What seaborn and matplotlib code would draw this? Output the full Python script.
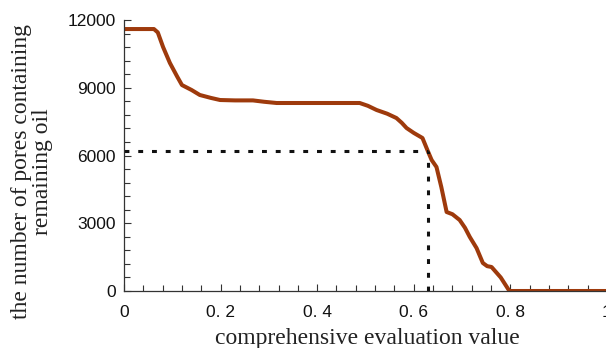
import matplotlib
matplotlib.use("Agg")
import matplotlib.pyplot as plt
from matplotlib.ticker import MultipleLocator, FuncFormatter
import seaborn as sns
import pandas as pd

eval_value = [0.0, 0.03, 0.062, 0.07, 0.081, 0.095, 0.11, 0.12, 0.14, 0.157, 0.18, 0.199,
              0.23, 0.267, 0.29, 0.316, 0.40, 0.488, 0.505, 0.523, 0.545, 0.564, 0.575,
              0.585, 0.60, 0.618, 0.629, 0.637, 0.647, 0.657, 0.668, 0.68, 0.695, 0.706,
              0.716, 0.73, 0.743, 0.752, 0.761, 0.78, 0.798, 0.85, 0.9, 1.0]
pore_count = [11600, 11600, 11600, 11450, 10800, 10100, 9500, 9120, 8900, 8680, 8550, 8457,
              8440, 8440, 8380, 8325, 8325, 8325, 8200, 8015, 7850, 7660, 7450,
              7218, 7000, 6775, 6200, 5800, 5491, 4605, 3498, 3400, 3144, 2800,
              2391, 1900, 1240, 1100, 1063, 600, 0, 0, 0, 0]

threshold_x = 0.63
threshold_y = 6200

df = pd.DataFrame({"x": eval_value, "y": pore_count})

sns.set_style("ticks")
plt.rcParams["font.family"] = ["Liberation Sans", "DejaVu Sans"]

fig = plt.figure(figsize=(6.06, 3.48), dpi=100)
ax = fig.add_axes([0.2046, 0.1638, 0.797, 0.7787])

sns.lineplot(data=df, x="x", y="y", ax=ax, color="#9E3A0C", linewidth=2.9, estimator=None, sort=False)

dash = (1.6, 2.9)
ax.plot([0, threshold_x], [threshold_y, threshold_y], color="#111111", lw=2.2,
        linestyle=(0, dash))
ax.plot([threshold_x, threshold_x], [0, threshold_y], color="#111111", lw=2.2,
        linestyle=(0, dash))

ax.set_xlim(0, 1)
ax.set_ylim(0, 12000)
ax.xaxis.set_major_locator(MultipleLocator(0.2))
ax.xaxis.set_minor_locator(MultipleLocator(0.04))
ax.yaxis.set_major_locator(MultipleLocator(3000))
ax.yaxis.set_minor_locator(MultipleLocator(600))

def xfmt(v, pos):
    if abs(v) < 1e-9:
        return "0"
    if abs(v - 1) < 1e-9:
        return "1"
    s = f"{v:.1f}"
    return s.replace(".", ". ")

ax.xaxis.set_major_formatter(FuncFormatter(xfmt))
ax.tick_params(axis="both", which="both", direction="in", colors="#333333",
               labelcolor="#111111", labelsize=12.5, width=0.8)
ax.tick_params(which="major", length=5)
ax.tick_params(which="minor", length=4)
ax.tick_params(axis="x", pad=10)
ax.tick_params(axis="y", pad=6)

for s in ["top", "right"]:
    ax.spines[s].set_visible(False)
for s in ["left", "bottom"]:
    ax.spines[s].set_color("#333333")
    ax.spines[s].set_linewidth(0.9)

ax.set_xlabel("comprehensive evaluation value", family=["Liberation Serif", "DejaVu Serif"],
              fontsize=17, color="#222222")
ax.set_ylabel("the number of pores containing\nremaining oil",
              family=["Liberation Serif", "DejaVu Serif"], fontsize=17,
              color="#222222", linespacing=1.05)
ax.xaxis.set_label_coords(0.503, -0.135)
ax.yaxis.set_label_coords(-0.146, 0.44)

fig.savefig("out.png", dpi=100)
